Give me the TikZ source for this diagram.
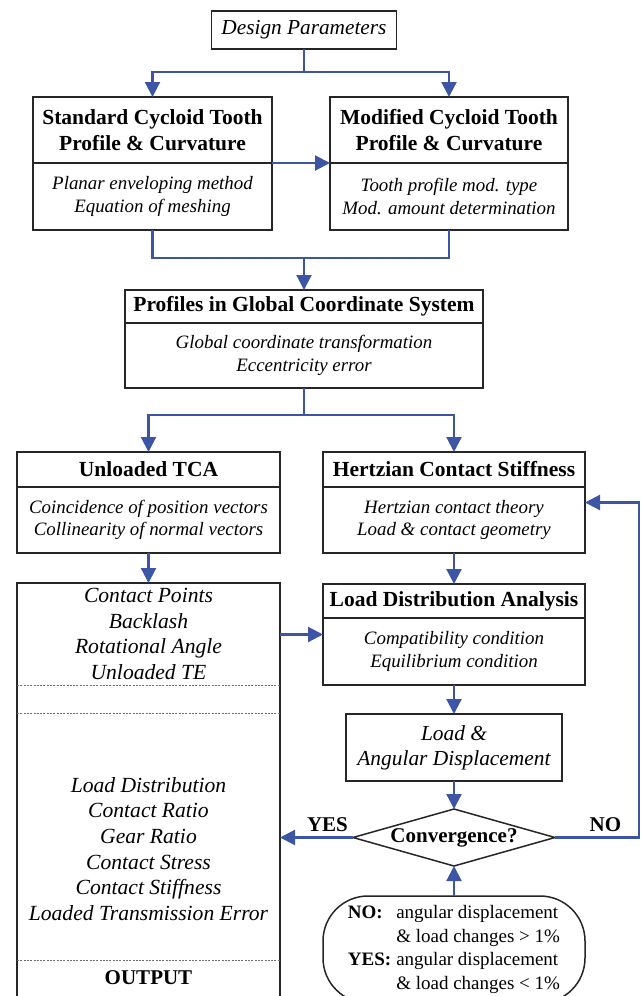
\documentclass[tikz,border=0pt]{standalone}
\usepackage{fontspec}
\setmainfont{Liberation Serif}
\usetikzlibrary{shapes.geometric,arrows.meta,positioning,calc}
\definecolor{flowblue}{RGB}{60,85,165}
\definecolor{sepgray}{RGB}{110,110,110}

\begin{document}
\begin{tikzpicture}[x=1pt, y=-1pt,
  box/.style={rectangle, draw=black!85, line width=1.5pt, outer sep=0pt, inner sep=2pt, align=center},
  ttl/.style={box, font=\fontsize{21.5}{26}\selectfont\bfseries},
  body/.style={box, font=\fontsize{18.9}{22.5}\selectfont\itshape},
  bigtxt/.style={align=center, font=\fontsize{21.6}{25.6}\selectfont\itshape},
  lbl/.style={font=\fontsize{21}{24}\selectfont\bfseries},
  dec/.style={diamond, draw=black!85, line width=1.5pt, inner sep=0pt, outer sep=0pt},
  cond/.style={rectangle, rounded corners=45pt, draw=black!85, line width=1.5pt, outer sep=0pt,
    font=\fontsize{19}{23.5}\selectfont},
  sep/.style={draw=sepgray, line width=0.9pt, dash pattern=on 2pt off 1.3pt},
  line/.style={draw=flowblue, line width=2.2pt},
  arr/.style={line, -{Triangle[length=15pt, width=15pt]}}
]
\useasboundingbox (0,0) rectangle (640,996);
\clip (0,0) rectangle (640,996);

% top of the flow
\node[body, minimum width=185pt, minimum height=38pt, font=\fontsize{21.3}{24}\selectfont\itshape] (design) at (304,30) {Design Parameters};
\node[ttl, minimum width=239pt, minimum height=66pt, anchor=north] (stdt) at (152.5,97) {Standard Cycloid Tooth\\Profile \& Curvature};
\node[body, minimum width=239pt, minimum height=67pt, below=0pt of stdt] (stdb) {Planar enveloping method\\Equation of meshing};
\node[ttl, minimum width=238pt, minimum height=66pt, right=58pt of stdt] (modt) {Modified Cycloid Tooth\\Profile \& Curvature};
\node[body, minimum width=238pt, minimum height=67pt, below=0pt of modt] (modb) {Tooth profile mod. type\\Mod. amount determination};

\node[ttl, minimum width=358pt, minimum height=33pt, anchor=north] (proft) at (304,290) {Profiles in Global Coordinate System};
\node[body, minimum width=358pt, minimum height=65pt, below=0pt of proft] (profb) {Global coordinate transformation\\Eccentricity error};

% contact analysis
\node[ttl, minimum width=263pt, minimum height=35pt, anchor=north] (tcat) at (148.5,452) {Unloaded TCA};
\node[body, minimum width=263pt, minimum height=66pt, below=0pt of tcat] (tcab) {Coincidence of position vectors\\Collinearity of normal vectors};
\node[ttl, minimum width=262pt, minimum height=35pt, anchor=north] (hertt) at (454,452) {Hertzian Contact Stiffness};
\node[body, minimum width=262pt, minimum height=66pt, below=0pt of hertt] (hertb) {Hertzian contact theory\\Load \& contact geometry};

\node[ttl, minimum width=262pt, minimum height=34pt, below=31pt of hertb] (ldat) {Load Distribution Analysis};
\node[body, minimum width=262pt, minimum height=67pt, below=0pt of ldat] (ldab) {Compatibility condition\\Equilibrium condition};
\node[body, minimum width=216pt, minimum height=67pt, below=29pt of ldab, font=\fontsize{21.4}{25}\selectfont\itshape] (load) {Load \&\\Angular Displacement};
\node[dec, minimum width=202pt, minimum height=57pt, below=28pt of load] (conv) {};
\node[lbl] (convtxt) at (conv) {Convergence?};
\node[cond, minimum width=262pt, minimum height=107pt, below=30pt of conv] (crit) {%
  \begin{tabular}{@{}l@{\hspace{5pt}}l@{}}
  \textbf{NO:} & angular displacement\\
   & \& load changes > 1\%\\
  \textbf{YES:} & angular displacement\\
   & \& load changes < 1\%
  \end{tabular}};

% results column
\node[box, minimum width=263pt, minimum height=440pt, anchor=north] (outp) at (148.5,583) {};
\node[bigtxt] (unl) at ($(outp.north)+(0,51)$) {Contact Points\\Backlash\\Rotational Angle\\Unloaded TE};
\node[bigtxt] (ldres) at ($(outp.north)+(0,266)$) {Load Distribution\\Contact Ratio\\Gear Ratio\\Contact Stress\\Contact Stiffness\\Loaded Transmission Error};
\node[lbl] (outlbl) at ($(outp.north)+(0,395)$) {OUTPUT};
\foreach \d in {102,130,377}
  \draw[sep] ([yshift=-\d]outp.north west) -- ([yshift=-\d]outp.north east);

% connectors
\draw[line] (design.south) -- ++(0,23) coordinate (s1);
\draw[arr] (s1) -| (stdt.north);
\draw[arr] (s1) -| (modt.north);
\draw[arr] (stdt.south east) -- (modt.south west);
\draw[line] (stdb.south) -- ++(0,28) coordinate (j1) -| (modb.south);
\draw[arr] (j1 -| proft.north) -- (proft.north);
\draw[line] (profb.south) -- ++(0,27) coordinate (s2);
\draw[arr] (s2) -| (tcat.north);
\draw[arr] (s2) -| (hertt.north);
\draw[arr] (tcab.south) -- (outp.north);
\draw[arr] (hertb.south) -- (ldat.north);
\coordinate (ldamid) at ($(ldat.north west)!.5!(ldab.south west)$);
\draw[arr] (ldamid -| outp.east) -- (ldamid);
\draw[arr] (ldab.south) -- (load.north);
\draw[arr] (load.south) -- (conv.north);
\draw[arr] (conv.west) -- node[lbl, pos=.35, above=1pt] (yes) {YES} (conv.west -| outp.east);
\coordinate (hertmid) at ($(hertt.north east)!.5!(hertb.south east)$);
\draw[arr] (conv.east) -- node[lbl, pos=.6, above=1pt] (no) {NO} ++(84,0) |- (hertmid);
\draw[arr] (crit.north) -- (conv.south);
\end{tikzpicture}
\end{document}
